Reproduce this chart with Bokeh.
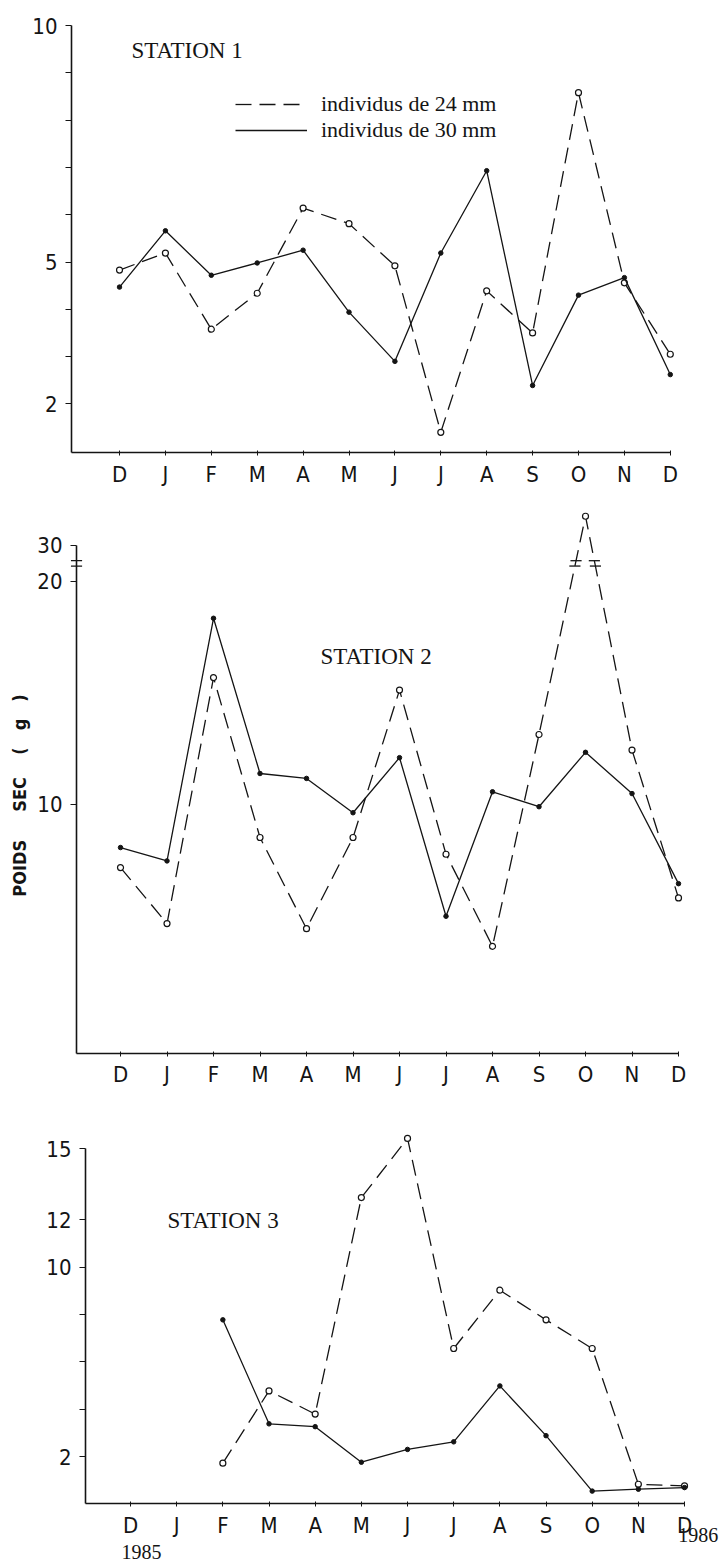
import numpy as np
from bokeh.plotting import figure
from bokeh.models import Range1d, FixedTicker, CustomJSTickFormatter, Legend, LegendItem, Label
from bokeh.layouts import column
from bokeh.embed import file_html
from bokeh.resources import INLINE

NAN = float("nan")
NB = "\u00a0"

# ---- data -------------------------------------------------------------
months = ["D", "J", "F", "M", "A", "M", "J", "J", "A", "S", "O", "N", "D"]
month_idx = list(range(len(months)))

legend_labels = ["individus de 24 mm", "individus de 30 mm"]
station_titles = ["STATION 1", "STATION 2", "STATION 3"]
y_title = "POIDS" + NB * 5 + "SEC" + NB * 4 + "(" + NB * 3 + "g" + NB * 3 + ")"
years = ["1985", "1986"]

# Station 1 (dry weight, g)
s1_24mm = [4.83, 5.19, 3.58, 4.34, 6.14, 5.81, 4.92, 1.40, 4.39, 3.50, 8.58, 4.56, 3.05]
s1_30mm = [4.47, 5.66, 4.72, 4.98, 5.25, 3.94, 2.90, 5.19, 6.93, 2.39, 4.30, 4.67, 2.62]

# Station 2 (axis broken above 20)
s2_24mm = [7.17, 4.66, 15.69, 8.52, 4.43, 8.52, 15.13, 7.77, 3.64, 13.14, 38.0, 12.44, 5.81]
s2_30mm = [8.07, 7.47, 18.35, 11.39, 11.17, 9.63, 12.10, 4.99, 10.57, 9.90, 12.34, 10.49, 6.45]

# Station 3 (no sampling in Dec / Jan)
s3_24mm = [NAN, NAN, 1.72, 4.77, 3.79, 12.93, 15.43, 6.56, 9.02, 7.77, 6.56, 0.83, 0.76]
s3_30mm = [NAN, NAN, 7.77, 3.38, 3.26, 1.76, 2.30, 2.62, 4.98, 2.88, 0.54, 0.62, 0.69]

s1_yticks, s1_yminor = [2, 5, 10], [3, 4, 6, 7, 8, 9]
s2_break, s2_break_factor = 20.0, 0.1625
s2_yticks = [10, 20, 30]
s3_yticks, s3_yminor = [2, 10, 12, 15], [4, 6, 8]


def broken(vals):
    """Compress values above the axis break of station 2."""
    out = []
    for v in vals:
        out.append(v if (v != v or v <= s2_break) else s2_break + (v - s2_break) * s2_break_factor)
    return np.array(out, dtype=float)


# ---- styling ------------------------------------------------------------
INK = "#141414"
SANS = "'Liberation Sans Narrow', 'DejaVu Sans Condensed', 'Liberation Sans', sans-serif"
SERIF = "'Liberation Serif', serif"
DASH = "16 8"
W = 720


def make_fig(h, xr, yr, yaxis_at, ybounds, xaxis_at, xbounds):
    # the frame fills the whole figure; axes are pinned inside it
    p = figure(frame_width=W, frame_height=h,
               x_range=Range1d(*xr), y_range=Range1d(*yr),
               min_border_left=0, min_border_right=0,
               min_border_top=0, min_border_bottom=0,
               output_backend="svg", toolbar_location=None)
    p.xgrid.visible = False
    p.ygrid.visible = False
    p.outline_line_color = None
    p.background_fill_color = "white"
    p.border_fill_color = "white"

    xa = p.xaxis[0]
    xa.fixed_location = xaxis_at
    xa.bounds = xbounds
    xa.ticker = FixedTicker(ticks=month_idx)
    xa.major_label_overrides = {i: m for i, m in enumerate(months)}
    xa.major_tick_out = 3
    xa.major_tick_in = 2
    xa.minor_tick_line_color = None
    xa.major_label_standoff = 6
    xa.major_label_text_font = SANS
    xa.major_label_text_font_size = "22px"
    xa.major_label_text_color = INK
    xa.axis_line_width = 1.6
    xa.axis_line_color = INK
    xa.major_tick_line_color = INK

    ya = p.yaxis[0]
    ya.fixed_location = yaxis_at
    ya.bounds = ybounds
    ya.major_tick_out = 6
    ya.major_tick_in = 0
    ya.minor_tick_out = 6
    ya.minor_tick_in = 0
    ya.major_label_standoff = 8
    ya.major_label_text_font = SANS
    ya.major_label_text_font_size = "22px"
    ya.major_label_text_color = INK
    ya.axis_line_width = 1.6
    ya.axis_line_color = INK
    ya.major_tick_line_color = INK
    ya.minor_tick_line_color = INK
    return p


def draw(p, v24, v30):
    v24 = np.array(v24, dtype=float)
    v30 = np.array(v30, dtype=float)
    r24 = p.line(month_idx, v24, line_dash=DASH, line_width=1.3, line_color=INK)
    p.scatter(month_idx, v24, marker="circle", size=6, fill_color="white",
              line_color=INK, line_width=1.2)
    r30 = p.line(month_idx, v30, line_width=1.3, line_color=INK)
    p.scatter(month_idx, v30, marker="circle", size=4.5, fill_color=INK,
              line_color=INK, line_width=1)
    return r24, r30


def text(p, s, x, y, size="23px", align="left", baseline="alphabetic", font=SERIF,
         angle=0.0, style="normal"):
    p.add_layout(Label(x=x, y=y, text=s, text_font=font, text_font_size=size, angle=angle,
                       text_color=INK, text_baseline=baseline, text_align=align,
                       text_font_style=style))


# ---- station 1 (page rows 0..500) -----------------------------------------
p1 = make_fig(500, (-2.593, 13.094), (-0.042, 10.529), -1.046, (0.97, 10), 0.97, (-1.046, 12))
p1.yaxis[0].ticker = FixedTicker(ticks=s1_yticks, minor_ticks=s1_yminor)
r1_24, r1_30 = draw(p1, s1_24mm, s1_30mm)
text(p1, station_titles[0], 0.26, 9.47)
legend = Legend(items=[LegendItem(label=legend_labels[0], renderers=[r1_24]),
                       LegendItem(label=legend_labels[1], renderers=[r1_30])],
                location=(235, 357), glyph_width=72, glyph_height=18, label_height=18,
                label_standoff=14, spacing=0, padding=0, margin=0,
                border_line_color=None, background_fill_alpha=0,
                label_text_font=SERIF, label_text_font_size="22px", label_text_color=INK)
p1.add_layout(legend)

# ---- station 2 (page rows 500..1090) --------------------------------------
s2_tick_pos = [v if v <= s2_break else s2_break + (v - s2_break) * s2_break_factor for v in s2_yticks]
s2_axis_x = -0.946
p2 = make_fig(590, (-2.581, 12.903), (-2.825, 23.632), s2_axis_x, (-1.15, s2_tick_pos[-1]),
              -1.15, (-0.946, 12))
p2.yaxis[0].ticker = FixedTicker(ticks=s2_tick_pos)
p2.yaxis[0].formatter = CustomJSTickFormatter(
    args=dict(brk=s2_break, f=s2_break_factor),
    code="const v = tick <= brk ? tick : brk + (tick - brk) / f; return String(Math.round(v));")
s2_24_plot = broken(s2_24mm)
draw(p2, s2_24_plot, broken(s2_30mm))

# axis-break marks: on the y axis and on the two segments reaching the October peak
mid = (s2_tick_pos[1] + s2_tick_pos[2]) / 2
levels = [mid - 0.12, mid + 0.12]
peak = int(np.nanargmax(s2_24_plot))
bx, by = [], []
for lv in levels:
    bx.append(s2_axis_x)
    by.append(lv)
    for nb in (peak - 1, peak + 1):
        y0, y1 = s2_24_plot[nb], s2_24_plot[peak]
        bx.append(nb + (peak - nb) * (lv - y0) / (y1 - y0))
        by.append(lv)
bx = np.array(bx)
p2.segment(x0=bx - 0.12, x1=bx + 0.12, y0=by, y1=by, line_color=INK, line_width=1.3)

text(p2, station_titles[1], 4.3, 16.64)
text(p2, y_title, -2.172, 10.4, size="18px", align="center", baseline="middle",
     font=SANS, angle=np.pi / 2, style="bold")

# ---- station 3 (page rows 1090..1563) -------------------------------------
p3 = make_fig(473, (-2.816, 12.779), (-2.516, 17.451), -0.975, (0, 15), 0, (-0.975, 12))
p3.yaxis[0].ticker = FixedTicker(ticks=s3_yticks, minor_ticks=s3_yminor)
draw(p3, s3_24mm, s3_30mm)
text(p3, station_titles[2], 0.8, 11.96)
text(p3, years[0], 0.24, -2.02, size="20px", align="center", baseline="middle")
text(p3, years[1], 12.73, -1.3, size="20px", align="right", baseline="middle")

layout = column(p1, p2, p3, spacing=0)
open("out.html", "w").write(file_html(layout, INLINE))
